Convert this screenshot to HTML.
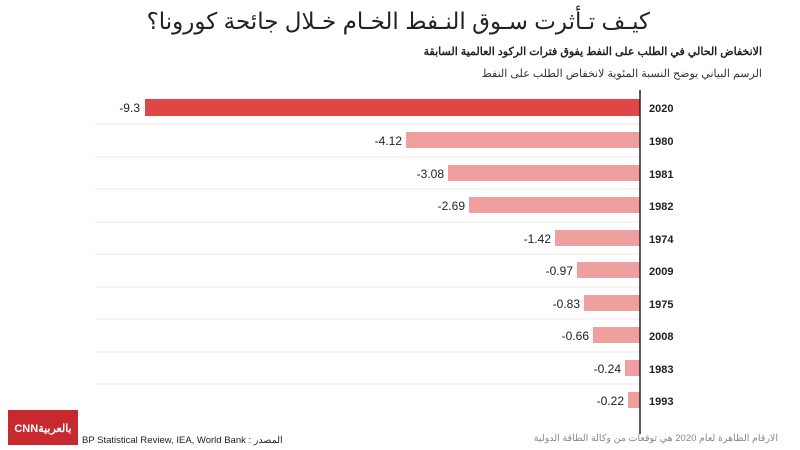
<!DOCTYPE html>
<html><head><meta charset="utf-8"><style>
body{margin:0;width:800px;height:450px;background:#fff;overflow:hidden;position:relative;font-family:"Liberation Sans","Noto Sans CJK SC",sans-serif}
.a{position:absolute;white-space:nowrap}
</style></head><body>
<div class="a" style="right:150px;top:8px;font-size:23px;color:#222;direction:rtl">كيـف تـأثرت سـوق النـفط الخـام خـلال جائحة كورونا؟</div>
<div class="a" style="right:38px;top:45px;font-size:11px;font-weight:bold;color:#222;direction:rtl">الانخفاض الحالي في الطلب على النفط يفوق فترات الركود العالمية السابقة</div>
<div class="a" style="right:38px;top:67px;font-size:11px;color:#333;direction:rtl">الرسم البياني يوضح النسبة المئوية لانخفاض الطلب على النفط</div>
<svg class="a" style="left:0;top:0" width="800" height="450" font-family="Liberation Sans, sans-serif">
<g stroke="#e8e8e8" stroke-width="1">
<line x1="95" x2="640" y1="124" y2="124"/><line x1="95" x2="640" y1="157" y2="157"/><line x1="95" x2="640" y1="189" y2="189"/><line x1="95" x2="640" y1="222" y2="222"/><line x1="95" x2="640" y1="254" y2="254"/><line x1="95" x2="640" y1="287" y2="287"/><line x1="95" x2="640" y1="319" y2="319"/><line x1="95" x2="640" y1="352" y2="352"/><line x1="95" x2="640" y1="384" y2="384"/>
</g>
<rect x="145" y="99" width="495" height="17" fill="#e04646"/>
<g fill="#efa09e">
<rect x="406" y="132" width="234" height="16"/>
<rect x="448" y="165" width="192" height="16"/>
<rect x="469" y="197" width="171" height="16"/>
<rect x="555" y="230" width="85" height="16"/>
<rect x="577" y="262" width="63" height="16"/>
<rect x="584" y="295" width="56" height="16"/>
<rect x="593" y="327" width="47" height="16"/>
<rect x="625" y="360" width="15" height="16"/>
<rect x="628" y="392" width="12" height="16"/>
</g>
<line x1="640" x2="640" y1="90" y2="434" stroke="#222" stroke-width="1.5"/>
<g font-size="12" fill="#222" text-anchor="end">
<text x="140" y="112">-9.3</text>
<text x="402" y="145">-4.12</text>
<text x="444" y="178">-3.08</text>
<text x="465" y="210">-2.69</text>
<text x="551" y="243">-1.42</text>
<text x="573" y="275">-0.97</text>
<text x="580" y="308">-0.83</text>
<text x="589" y="340">-0.66</text>
<text x="621" y="373">-0.24</text>
<text x="624" y="405">-0.22</text>
</g>
<g font-size="11" font-weight="bold" fill="#222">
<text x="649" y="112">2020</text><text x="649" y="145">1980</text><text x="649" y="178">1981</text><text x="649" y="210">1982</text><text x="649" y="243">1974</text><text x="649" y="275">2009</text><text x="649" y="308">1975</text><text x="649" y="340">2008</text><text x="649" y="373">1983</text><text x="649" y="405">1993</text>
</g>
<rect x="8" y="410" width="70" height="35" fill="#c62a2f"/>
<text x="43" y="432" font-size="11" font-weight="bold" fill="#fff" text-anchor="middle">CNNبالعربية</text>
</svg>
<div class="a" style="left:82px;top:435px;font-size:9.5px;color:#222">BP Statistical Review, IEA, World Bank : المصدر</div>
<div class="a" style="right:22px;top:433px;font-size:9.5px;color:#888;direction:rtl">الارقام الظاهرة لعام 2020 هي توقعات من وكالة الطاقة الدولية</div>
</body></html>
